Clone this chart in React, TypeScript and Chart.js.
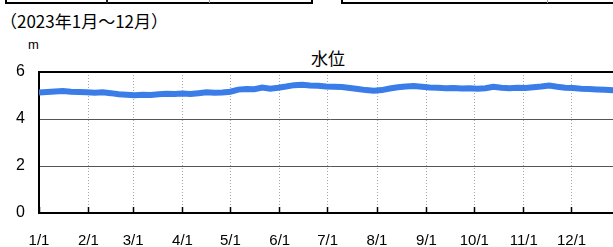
import React, { useEffect, useRef } from "react";
import { Chart, registerables } from "chart.js";

Chart.register(...registerables);

const monthStartDays = [0, 31, 59, 90, 120, 151, 181, 212, 243, 273, 304, 334];
const monthLabels = ["1/1", "2/1", "3/1", "4/1", "5/1", "6/1", "7/1", "8/1", "9/1", "10/1", "11/1", "12/1"];
const yTickValues = [0, 2, 4, 6];

const seriesDays = [
  0, 5, 10, 15, 20, 25, 30, 35, 40, 45, 50, 55, 60, 65, 70, 75, 80, 85, 90, 95,
  100, 105, 110, 115, 120, 125, 130, 135, 140, 145, 150, 155, 160, 165, 170, 175, 180, 185, 190, 195,
  200, 205, 210, 215, 220, 225, 230, 235, 240, 245, 250, 255, 260, 265, 270, 275, 280, 285, 290, 295,
  300, 305, 310, 315, 320, 325, 330, 335, 340, 345, 350, 355, 360, 365,
];
const waterLevel = [
  5.13, 5.15, 5.17, 5.19, 5.16, 5.15, 5.14, 5.12, 5.14, 5.10, 5.05, 5.03, 5.01, 5.03, 5.02, 5.05, 5.07, 5.06, 5.08, 5.06,
  5.10, 5.14, 5.12, 5.13, 5.16, 5.25, 5.28, 5.27, 5.34, 5.29, 5.33, 5.38, 5.44, 5.46, 5.43, 5.41, 5.38, 5.37, 5.36, 5.32,
  5.28, 5.23, 5.20, 5.23, 5.30, 5.35, 5.38, 5.40, 5.37, 5.34, 5.33, 5.31, 5.32, 5.30, 5.31, 5.29, 5.31, 5.37, 5.33, 5.31,
  5.33, 5.32, 5.35, 5.38, 5.42, 5.37, 5.33, 5.32, 5.29, 5.28, 5.26, 5.24, 5.22, 5.20,
];

const periodText = "（2023年1月～12月）";
const unitText = "m";
const titleText = "水位";

const numFont = "'Liberation Sans', Arial, sans-serif";
const cjkFont = "'Noto Sans CJK JP', sans-serif";

export default function App() {
  const canvasRef = useRef<HTMLCanvasElement | null>(null);

  useEffect(() => {
    const canvas = canvasRef.current;
    if (!canvas) return;
    const chart = new Chart(canvas, {
      type: "line",
      data: {
        datasets: [
          {
            label: titleText,
            data: seriesDays.map((d, i) => ({ x: d, y: waterLevel[i] })),
            borderColor: "#3a7de9",
            backgroundColor: "#3a7de9",
            borderWidth: 6,
            pointRadius: 0,
            tension: 0,
            fill: false,
          },
        ],
      },
      options: {
        animation: false,
        responsive: false,
        devicePixelRatio: 1,
        layout: { padding: { top: 72, right: 19, left: 0, bottom: 0 } },
        plugins: {
          legend: { display: false },
          title: { display: false },
          tooltip: { enabled: false },
        },
        scales: {
          x: {
            type: "linear",
            min: 0,
            max: 365,
            afterBuildTicks: (scale: any) => {
              scale.ticks = monthStartDays.map((v) => ({ value: v }));
            },
            afterFit: (scale: any) => {
              scale.height = 34;
            },
            ticks: {
              autoSkip: false,
              maxRotation: 0,
              padding: 25,
              color: "#000",
              font: { family: numFont, size: 15 },
              callback: (_v: any, i: number) => monthLabels[i],
            },
            grid: {
              color: "#a8a8a8",
              lineWidth: 1,
              drawTicks: true,
              tickLength: -6,
              tickColor: "#000",
              tickWidth: 1.5,
            },
            border: { display: true, color: "#000", width: 2, dash: [1, 2] },
          },
          y: {
            min: 0,
            max: 6,
            afterBuildTicks: (scale: any) => {
              scale.ticks = yTickValues.map((v) => ({ value: v }));
            },
            afterFit: (scale: any) => {
              scale.width = 39;
            },
            ticks: {
              padding: 14,
              color: "#000",
              font: { family: numFont, size: 16 },
            },
            grid: {
              drawTicks: false,
              color: (ctx: any) => {
                const v = ctx.tick ? ctx.tick.value : null;
                if (v === 0) return "rgba(0,0,0,0)";
                if (v === 6) return "#000";
                return "#555";
              },
              lineWidth: (ctx: any) => (ctx.tick && ctx.tick.value === 6 ? 2 : 1),
            },
            border: { display: true, color: "#000", width: 2 },
          },
        },
      },
    });
    return () => chart.destroy();
  }, []);

  return (
    <div
      style={{
        position: "absolute",
        left: 0,
        top: 0,
        width: 613,
        height: 247,
        overflow: "hidden",
        background: "#fff",
      }}
    >
      {/* remnants of table borders above */}
      <div
        style={{
          position: "absolute",
          left: 5,
          top: -4,
          width: 304,
          height: 6,
          borderLeft: "2px solid #000",
          borderRight: "2px solid #000",
          borderBottom: "2px solid #000",
        }}
      />
      <div style={{ position: "absolute", left: 106, top: 0, width: 2, height: 3, background: "#222" }} />
      <div style={{ position: "absolute", left: 209, top: 0, width: 1, height: 3, background: "#999" }} />
      <div
        style={{
          position: "absolute",
          left: 341,
          top: -4,
          width: 300,
          height: 6,
          borderLeft: "2px solid #000",
          borderBottom: "2px solid #000",
        }}
      />
      <div style={{ position: "absolute", left: 547, top: 0, width: 1, height: 3, background: "#999" }} />

      <div
        style={{
          position: "absolute",
          left: 0,
          top: 12,
          font: `17px ${cjkFont}`,
          lineHeight: "17px",
          whiteSpace: "nowrap",
          color: "#000",
        }}
      >
        {periodText}
      </div>
      <div
        style={{
          position: "absolute",
          left: 28,
          top: 38,
          font: `13px ${numFont}`,
          lineHeight: "13px",
          color: "#000",
        }}
      >
        {unitText}
      </div>
      <div
        style={{
          position: "absolute",
          left: 228,
          width: 200,
          top: 49,
          textAlign: "center",
          font: `17px ${cjkFont}`,
          lineHeight: "17px",
          color: "#000",
        }}
      >
        {titleText}
      </div>
      <canvas
        ref={canvasRef}
        width={640}
        height={247}
        style={{ position: "absolute", left: 0, top: 0, width: 640, height: 247 }}
      />
    </div>
  );
}
